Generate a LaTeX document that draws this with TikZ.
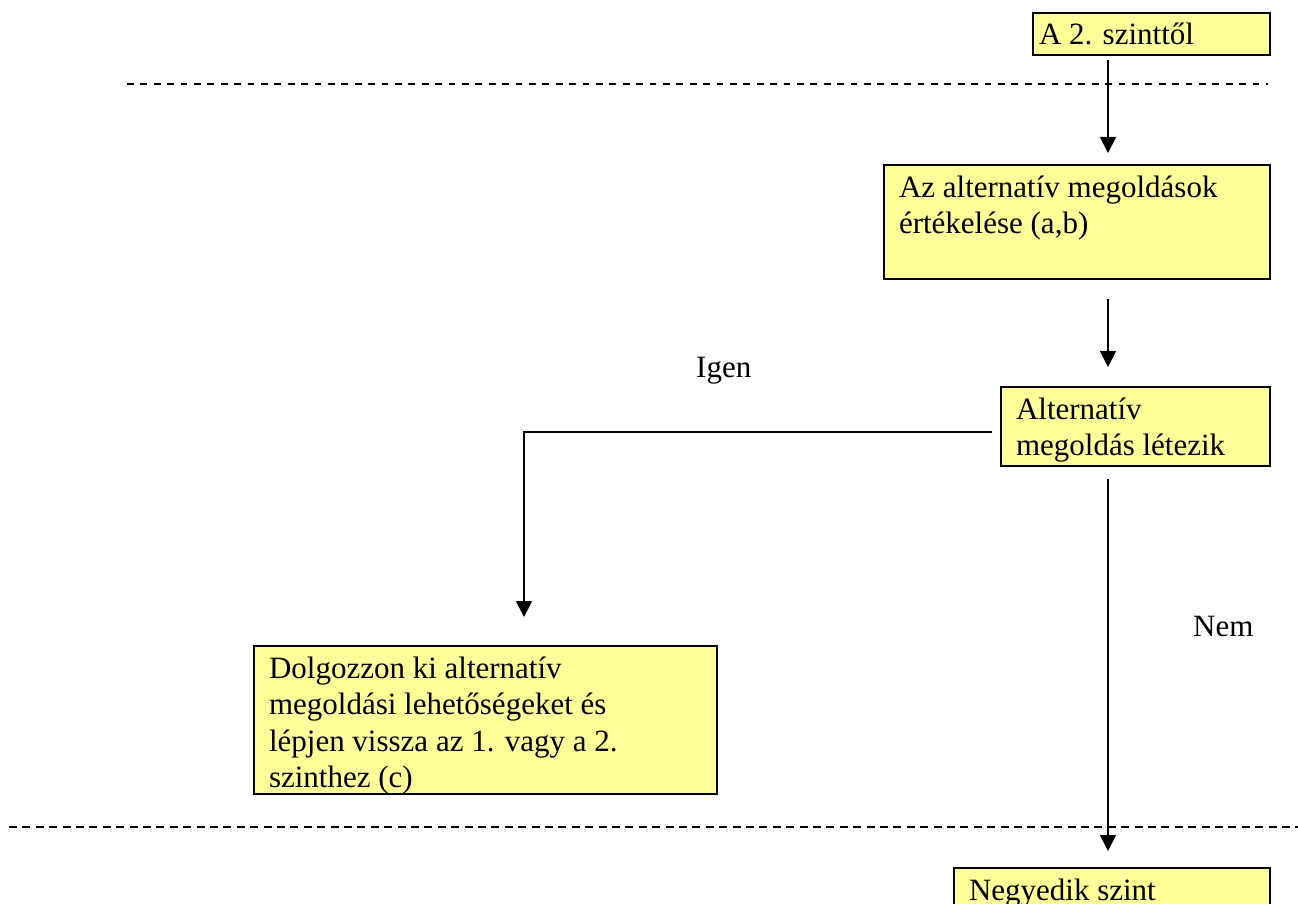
\documentclass[tikz,border=0pt]{standalone}
\usepackage{fontspec}
\setmainfont{Liberation Serif}
\usetikzlibrary{arrows.meta,calc}
\definecolor{boxyellow}{HTML}{FFFF99}
\newcommand\boxtxt[4]{\parbox[t][#2pt][t]{#1pt}{\raggedright\leftskip=#3pt\relax\baselineskip=36.5pt\rule{0pt}{32pt}#4}}
\tikzset{
  stepbox/.style={draw=black, line width=2pt, fill=boxyellow, anchor=north west, inner sep=0pt, font=\fontsize{31}{36.5}\selectfont},
  arr/.style={line width=1.8pt, -{Triangle[length=16pt,width=16pt]}},
  level/.style={line width=2pt, dash pattern=on 6.8pt off 6.6pt},
  lbl/.style={anchor=base west, inner sep=0pt, font=\fontsize{31}{36.5}\selectfont}
}
\begin{document}
\begin{tikzpicture}[x=1pt,y=-1pt]
\useasboundingbox (0,0) rectangle (1298,904);
% level separators
\coordinate (t1) at (127,84);
\coordinate (t2) at (1268,84);
\draw[level] (t1) -- (t2);
\coordinate (u1) at (9,827);
\coordinate (u2) at (1298,827);
\draw[level, dash pattern=on 8pt off 5.4pt] (u1) -- (u2);
% boxes
\node[stepbox] (b1) at (1032,12) {\boxtxt{237}{42}{6}{A 2. szinttől}};
\node[stepbox] (b2) at (883,164) {\boxtxt{386}{114}{15}{Az alternatív megoldások\\értékelése (a,b)}};
\node[stepbox] (b3) at (1000,386) {\boxtxt{269}{79}{15}{Alternatív\\megoldás létezik}};
\node[stepbox] (b4) at (253,645) {\boxtxt{463}{148}{15}{Dolgozzon ki alternatív\\megoldási lehetőségeket és\\lépjen vissza az 1. vagy a 2.\\szinthez (c)}};
\node[stepbox] (b5) at (953,867) {\boxtxt{316}{60}{15}{Negyedik szint}};
% labels
\node[lbl] (igen) at (696,377) {Igen};
\node[lbl] (nem) at (1193,636) {Nem};
% connectors
\coordinate (c1) at (1108,153);
\draw[arr, shorten <=4pt] (b1.south -| c1) -- (c1);
\coordinate (c2) at (1108,367);
\draw[arr, shorten <=19pt] (b2.south -| c2) -- (c2);
\coordinate (c3) at (524,617);
\draw[arr] ([shift={(-8,5.5)}]b3.west) -| (c3);
\coordinate (c4) at (1108,851);
\draw[arr, shorten <=12pt] (b3.south -| c4) -- (c4);
\end{tikzpicture}
\end{document}
